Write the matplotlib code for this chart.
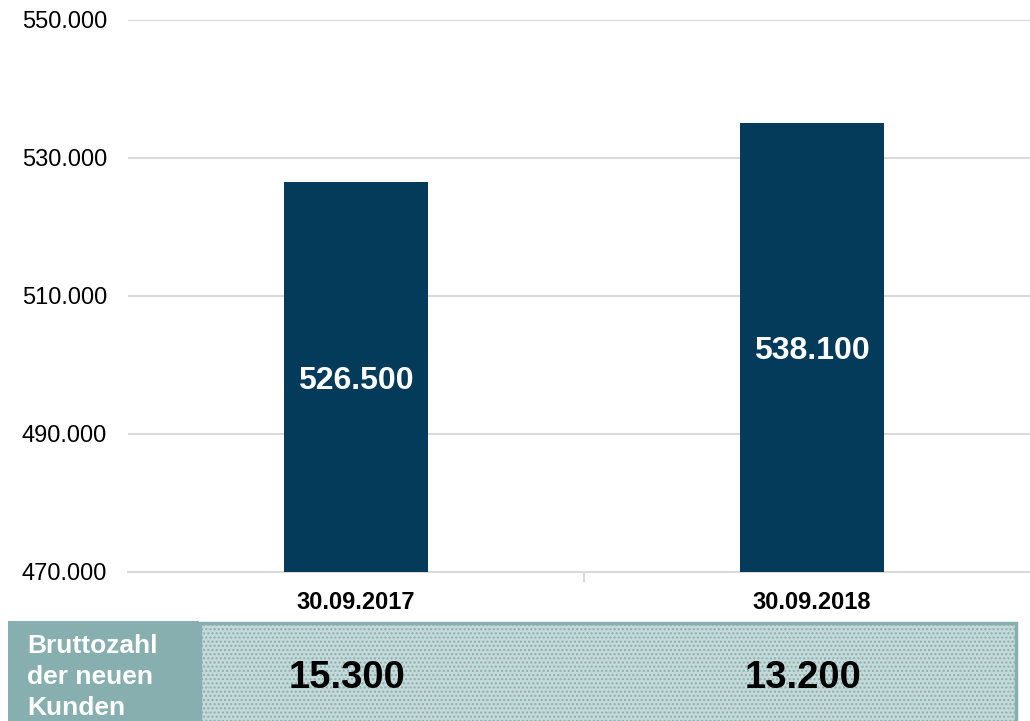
import matplotlib
matplotlib.use("Agg")
import matplotlib.pyplot as plt
from matplotlib.patches import Rectangle

plt.rcParams['font.family'] = ['Liberation Sans', 'DejaVu Sans']
plt.rcParams['hatch.color'] = "#87AFAF"

# Data
categories = ["30.09.2017", "30.09.2018"]
bar_heights = [526500, 535100]          # drawn heights
bar_labels = ["526.500", "538.100"]     # labels printed on bars
new_customers = ["15.300", "13.200"]
row_label = "Bruttozahl\nder neuen\nKunden"
y_ticks = [470000, 490000, 510000, 530000, 550000]
y_tick_labels = ["470.000", "490.000", "510.000", "530.000", "550.000"]

W, H = 1030, 721
fig = plt.figure(figsize=(W / 100, H / 100), dpi=100)

bar_color = "#043A5A"
grid_color = "#D9D9D9"
teal = "#87AFAF"

ax = fig.add_axes([128 / W, 1 - 572 / H, 1 - 128 / W, (572 - 20) / H])
x = list(range(len(categories)))
ax.bar(x, bar_heights, width=0.314, color=bar_color, zorder=3)
for xi, h, lab in zip(x, bar_heights, bar_labels):
    ax.annotate(lab, (xi, (h + y_ticks[0]) / 2), xytext=(0, -2.5),
                textcoords="offset points", ha="center", va="center",
                color="white", fontsize=23, fontweight="bold", zorder=4)

ax.set_xlim(-0.5, 1.478)
ax.set_ylim(y_ticks[0], y_ticks[-1])
ax.set_yticks(y_ticks)
ax.set_yticklabels(y_tick_labels, fontsize=17)
ax.yaxis.grid(True, color=grid_color, linewidth=1.5, zorder=0)
ax.tick_params(axis="y", length=0, pad=15)
ax.set_xticks(x)
ax.set_xticklabels(categories, fontsize=17, fontweight="bold")
ax.set_xticks([0.5], minor=True)
ax.tick_params(axis="x", which="major", length=0, pad=14)
ax.tick_params(axis="x", which="minor", length=7, color=grid_color, width=1.5)
for s in ["top", "right", "left"]:
    ax.spines[s].set_visible(False)
ax.spines["bottom"].set_color(grid_color)
ax.spines["bottom"].set_linewidth(1.5)

# Table below
tax = fig.add_axes([0, 0, 1, 1])
tax.set_xlim(0, W)
tax.set_ylim(H, 0)
tax.axis("off")
tax.add_patch(Rectangle((8, 621), 191, 101, facecolor=teal, edgecolor="none"))
tax.add_patch(Rectangle((200, 623), 816, 100, facecolor="#C5D9D9",
                        edgecolor=teal, linewidth=2.5, hatch="....",
                        zorder=2))
tax.text(27, 677, row_label, ha="left", va="center", color="white",
         fontsize=19, fontweight="bold", linespacing=1.38)
for xi, v in zip(x, new_customers):
    px = ax.transData.transform((xi, 0))[0] - 9
    tax.text(px, 678, v, ha="center", va="center", color="black",
             fontsize=27.5, fontweight="bold", zorder=5)

fig.savefig("out.png", dpi=100)
